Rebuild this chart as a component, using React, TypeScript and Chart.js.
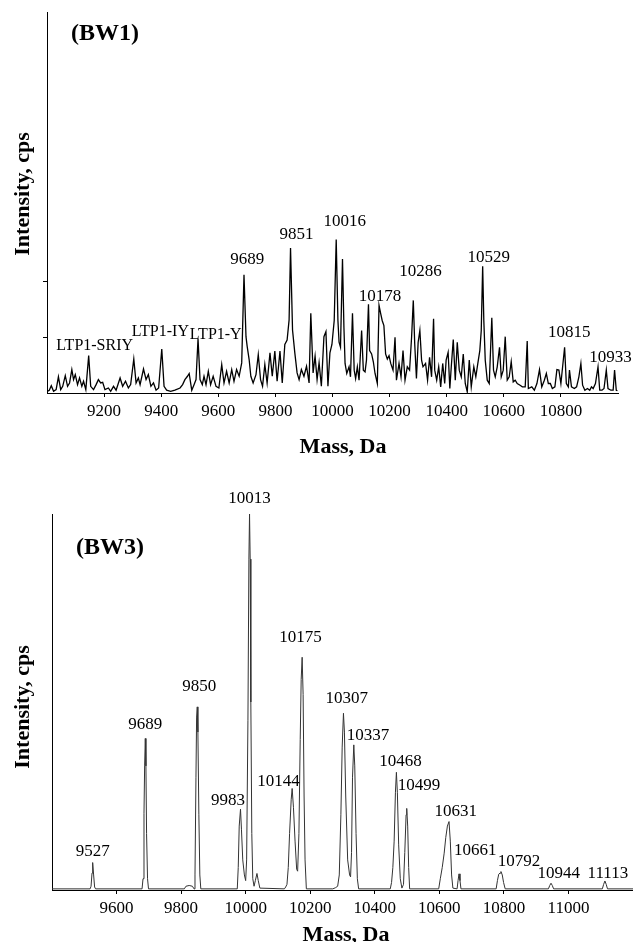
import React, { useEffect, useRef } from "react";
import { Chart, registerables } from "chart.js";

Chart.register(...registerables);

const SERIF = '"Liberation Serif", "Times New Roman", Times, serif';

// ---------- Top panel (BW1) ----------
const TOP_MASS = [
  9001, 9008, 9015, 9023, 9032, 9040, 9048, 9055, 9064, 9072,
  9079, 9087, 9093, 9099, 9107, 9114, 9122, 9128, 9136, 9146,
  9153, 9163, 9172, 9180, 9188, 9195, 9203, 9215, 9223, 9233,
  9242, 9256, 9265, 9275, 9285, 9293, 9304, 9312, 9320, 9326,
  9338, 9347, 9355, 9364, 9373, 9382, 9391, 9402, 9410, 9419,
  9433, 9448, 9466, 9475, 9483, 9492, 9498, 9507, 9515, 9522,
  9529, 9536, 9544, 9550, 9557, 9565, 9573, 9582, 9592, 9602,
  9612, 9620, 9629, 9638, 9647, 9655, 9664, 9673, 9682, 9690,
  9697, 9701, 9708, 9714, 9722, 9732, 9740, 9748, 9755, 9763,
  9771, 9781, 9789, 9798, 9806, 9816, 9824, 9833, 9841, 9848,
  9853, 9860, 9868, 9876, 9883, 9891, 9900, 9909, 9918, 9924,
  9932, 9939, 9946, 9953, 9961, 9970, 9977, 9984, 9991, 9998,
  10006, 10013, 10019, 10023, 10028, 10035, 10040, 10044, 10050, 10058,
  10063, 10070, 10076, 10081, 10087, 10093, 10102, 10108, 10114, 10119,
  10126, 10130, 10137, 10143, 10149, 10157, 10163, 10169, 10174, 10180,
  10186, 10192, 10198, 10204, 10212, 10219, 10224, 10233, 10240, 10247,
  10254, 10262, 10270, 10277, 10283, 10288, 10294, 10300, 10306, 10312,
  10317, 10326, 10333, 10340, 10347, 10354, 10358, 10365, 10372, 10379,
  10386, 10393, 10398, 10405, 10411, 10416, 10423, 10430, 10437, 10444,
  10451, 10458, 10465, 10472, 10479, 10486, 10495, 10502, 10509, 10516,
  10521, 10526, 10530, 10535, 10542, 10549, 10558, 10564, 10570, 10577,
  10585, 10591, 10598, 10605, 10612, 10619, 10626, 10633, 10640, 10647,
  10657, 10665, 10675, 10682, 10686, 10698, 10707, 10716, 10725, 10733,
  10742, 10749, 10756, 10763, 10770, 10779, 10786, 10793, 10800, 10806,
  10813, 10819, 10826, 10830, 10837, 10847, 10855, 10863, 10870, 10876,
  10884, 10893, 10901, 10907, 10913, 10921, 10930, 10936, 10944, 10951,
  10959, 10965, 10975, 10983, 10988, 10994, 10998,
];
const TOP_INT = [
  3, 5, 13, 3, 6, 29, 6, 12, 31, 12,
  18, 42, 24, 33, 15, 27, 12, 21, 6, 67,
  12, 6, 15, 24, 18, 19, 6, 9, 3, 12,
  5, 27, 12, 21, 9, 15, 61, 18, 27, 15,
  43, 24, 33, 12, 18, 5, 9, 79, 12, 5,
  3, 5, 9, 15, 24, 30, 35, 5, 15, 24,
  97, 24, 15, 30, 15, 39, 15, 30, 12, 9,
  51, 18, 39, 18, 42, 21, 42, 30, 54, 212,
  101, 84, 60, 30, 18, 33, 69, 24, 12, 51,
  18, 72, 30, 75, 21, 75, 18, 87, 95, 131,
  260, 113, 72, 36, 24, 42, 30, 48, 18, 143,
  36, 66, 24, 54, 12, 101, 110, 12, 72, 87,
  130, 275, 130, 91, 82, 240, 118, 53, 35, 47,
  29, 143, 41, 26, 47, 23, 112, 41, 38, 59,
  159, 76, 70, 56, 35, 17, 157, 142, 130, 121,
  70, 61, 67, 53, 41, 100, 23, 53, 29, 76,
  23, 47, 41, 100, 166, 88, 26, 91, 112, 59,
  47, 53, 23, 64, 29, 133, 41, 23, 47, 11,
  53, 17, 59, 73, 8, 47, 96, 23, 91, 41,
  29, 70, 17, 2, 59, 11, 47, 29, 53, 76,
  112, 227, 130, 59, 23, 17, 135, 41, 29, 47,
  82, 29, 41, 101, 23, 29, 56, 20, 23, 17,
  14, 11, 11, 93, 8, 11, 5, 17, 42, 11,
  23, 35, 17, 17, 8, 11, 42, 41, 17, 47,
  82, 17, 11, 41, 11, 8, 11, 29, 53, 14,
  5, 8, 5, 11, 8, 17, 47, 5, 5, 8,
  41, 8, 5, 5, 41, 5, 4,
];
const TOP_X_MIN = 9000;
const TOP_X_MAX = 11000;
const TOP_Y_MAX = 683;
const TOP_X_TICKS = [9200, 9400, 9600, 9800, 10000, 10200, 10400, 10600, 10800];
const TOP_Y_TICKS = [100, 200];
const TOP_NAME_TEXT = ["LTP1-SRIY", "LTP1-IY", "LTP1-Y"];
const TOP_NAME_MASS = [9167, 9397, 9591];
const TOP_NAME_INT = [84, 110, 104];
const TOP_PEAK_TEXT = ["9689", "9851", "10016", "10178", "10286", "10529", "10815", "10933"];
const TOP_PEAK_MASS = [9701, 9874, 10043, 10166, 10308, 10547, 10829, 10974];
const TOP_PEAK_INT = [240, 284, 308, 173, 218, 242, 109, 63];

// ---------- Bottom panel (BW3) ----------
const BOT_MASS = [
  9400, 9518, 9521, 9524, 9526, 9529, 9532, 9535, 9679, 9682,
  9685, 9687, 9689, 9691, 9693, 9696, 9699, 9810, 9815, 9825,
  9835, 9840, 9843, 9846, 9848, 9850, 9852, 9855, 9858, 9861,
  9974, 9977, 9980, 9984, 9987, 9991, 9996, 10000, 10003, 10007,
  10010, 10012, 10014, 10016, 10019, 10022, 10026, 10030, 10035, 10039,
  10044, 10120, 10124, 10128, 10132, 10136, 10141, 10144, 10148, 10153,
  10158, 10161, 10165, 10169, 10172, 10175, 10178, 10181, 10184, 10188,
  10270, 10278, 10285, 10290, 10295, 10299, 10303, 10306, 10310, 10316,
  10322, 10325, 10328, 10331, 10335, 10338, 10342, 10346, 10350, 10448,
  10452, 10456, 10460, 10464, 10467, 10470, 10474, 10479, 10484, 10489,
  10493, 10497, 10499, 10502, 10505, 10508, 10598, 10603, 10609, 10615,
  10620, 10625, 10630, 10634, 10638, 10642, 10655, 10658, 10661, 10664,
  10667, 10776, 10780, 10784, 10788, 10791, 10795, 10799, 10804, 10938,
  10942, 10946, 10950, 10954, 11105, 11109, 11113, 11117, 11121, 11200,
];
const BOT_INT = [
  3, 3, 10, 45, 73, 40, 8, 3, 3, 30,
  204, 330, 403, 330, 150, 30, 3, 3, 10, 12,
  10, 3, 40, 300, 460, 487, 420, 200, 40, 3,
  3, 60, 170, 215, 160, 80, 40, 25, 80, 450,
  880, 1000, 880, 500, 150, 30, 10, 25, 44, 25,
  5, 3, 8, 15, 60, 150, 240, 270, 220, 130,
  55, 50, 150, 400, 560, 619, 520, 250, 80, 3,
  3, 6, 10, 40, 200, 380, 470, 420, 250, 80,
  40, 35, 100, 300, 386, 330, 150, 30, 3, 3,
  20, 60, 130, 260, 313, 260, 120, 30, 5, 15,
  100, 200, 217, 170, 60, 3, 3, 30, 60, 98,
  140, 170, 182, 130, 40, 5, 3, 25, 43, 25,
  3, 3, 25, 42, 45, 49, 40, 20, 3, 3,
  12, 18, 12, 3, 3, 15, 24, 15, 3, 3,
];
const BOT_X_MIN = 9400;
const BOT_X_MAX = 11200;
const BOT_Y_MAX = 1000;
const BOT_X_TICKS = [9600, 9800, 10000, 10200, 10400, 10600, 10800, 11000];
const BOT_PEAK_TEXT = [
  "9527", "9689", "9850", "9983", "10013", "10144", "10175", "10307",
  "10337", "10468", "10499", "10631", "10661", "10792", "10944", "11113",
];
const BOT_PEAK_MASS = [
  9526, 9689, 9856, 9945, 10012, 10102, 10170, 10313,
  10379, 10480, 10537, 10651, 10711, 10847, 10970, 11122,
];
const BOT_PEAK_INT = [
  102, 439, 541, 239, 1042, 288, 672, 508,
  410, 343, 277, 210, 106, 75, 44, 44,
];

type Group = { text: string[]; mass: number[]; inten: number[]; size: number };
type Overlay = {
  groups: Group[];
  band: string;
  bandPos: [number, number];
  xTitlePos: [number, number];
  yTitlePos: [number, number];
};

function makeOverlay(id: string, cfg: Overlay) {
  return {
    id,
    afterDraw(chart: any) {
      const ctx = chart.ctx as CanvasRenderingContext2D;
      const xs = chart.scales.x;
      const ys = chart.scales.y;
      ctx.save();
      ctx.fillStyle = "#000";
      ctx.textAlign = "center";
      ctx.textBaseline = "middle";
      cfg.groups.forEach((g) => {
        ctx.font = `${g.size}px ${SERIF}`;
        g.text.forEach((t, i) => {
          ctx.fillText(t, xs.getPixelForValue(g.mass[i]), ys.getPixelForValue(g.inten[i]));
        });
      });
      ctx.font = `bold 24px ${SERIF}`;
      ctx.fillText(cfg.band, cfg.bandPos[0], cfg.bandPos[1]);
      ctx.font = `bold 22px ${SERIF}`;
      ctx.fillText("Mass, Da", cfg.xTitlePos[0], cfg.xTitlePos[1]);
      ctx.translate(cfg.yTitlePos[0], cfg.yTitlePos[1]);
      ctx.rotate(-Math.PI / 2);
      ctx.fillText("Intensity, cps", 0, 0);
      ctx.restore();
    },
  };
}

type PanelOpts = {
  mass: number[];
  inten: number[];
  xMin: number;
  xMax: number;
  yMax: number;
  xTicks: number[];
  yTicks: number[];
  color: string;
  lineWidth: number;
  padTop: number;
  padRight: number;
  yAxisWidth: number;
  xAxisHeight: number;
  overlay: any;
};

function buildConfig(o: PanelOpts): any {
  return {
    type: "line",
    data: {
      datasets: [
        {
          data: o.mass.map((m, i) => ({ x: m, y: o.inten[i] })),
          borderColor: o.color,
          borderWidth: o.lineWidth,
          pointRadius: 0,
          tension: 0,
          fill: false,
        },
      ],
    },
    options: {
      animation: false,
      responsive: false,
      maintainAspectRatio: false,
      layout: { padding: { left: 0, right: o.padRight, top: o.padTop, bottom: 0 } },
      plugins: {
        legend: { display: false },
        tooltip: { enabled: false },
        title: { display: false },
      },
      scales: {
        x: {
          type: "linear",
          min: o.xMin,
          max: o.xMax,
          afterBuildTicks: (s: any) => {
            s.ticks = o.xTicks.map((v) => ({ value: v }));
          },
          afterFit: (s: any) => {
            s.height = o.xAxisHeight;
          },
          grid: {
            display: true,
            drawOnChartArea: false,
            drawTicks: true,
            tickLength: 4,
            color: "#000",
            lineWidth: 1,
          },
          border: { display: true, color: "#000", width: 1 },
          ticks: {
            color: "#000",
            font: { family: SERIF, size: 17 },
            padding: 4,
            maxRotation: 0,
            autoSkip: false,
            callback: (v: any) => String(v),
          },
        },
        y: {
          type: "linear",
          min: 0,
          max: o.yMax,
          afterBuildTicks: (s: any) => {
            s.ticks = o.yTicks.map((v) => ({ value: v }));
          },
          afterFit: (s: any) => {
            s.width = o.yAxisWidth;
          },
          grid: {
            display: true,
            drawOnChartArea: false,
            drawTicks: true,
            tickLength: 4,
            color: "#000",
            lineWidth: 1,
          },
          border: { display: true, color: "#000", width: 1 },
          ticks: { display: false },
        },
      },
    },
    plugins: [o.overlay],
  };
}

export default function App() {
  const topRef = useRef<HTMLCanvasElement | null>(null);
  const botRef = useRef<HTMLCanvasElement | null>(null);

  useEffect(() => {
    document.body.style.margin = "0";
    const topOverlay = makeOverlay("topOverlay", {
      groups: [
        { text: TOP_NAME_TEXT, mass: TOP_NAME_MASS, inten: TOP_NAME_INT, size: 16 },
        { text: TOP_PEAK_TEXT, mass: TOP_PEAK_MASS, inten: TOP_PEAK_INT, size: 17 },
      ],
      band: "(BW1)",
      bandPos: [105, 34],
      xTitlePos: [343, 447],
      yTitlePos: [23, 194],
    });
    const botOverlay = makeOverlay("botOverlay", {
      groups: [{ text: BOT_PEAK_TEXT, mass: BOT_PEAK_MASS, inten: BOT_PEAK_INT, size: 17 }],
      band: "(BW3)",
      bandPos: [110, 88],
      xTitlePos: [346, 475],
      yTitlePos: [23, 247],
    });
    const top = new Chart(
      topRef.current as HTMLCanvasElement,
      buildConfig({
        mass: TOP_MASS,
        inten: TOP_INT,
        xMin: TOP_X_MIN,
        xMax: TOP_X_MAX,
        yMax: TOP_Y_MAX,
        xTicks: TOP_X_TICKS,
        yTicks: TOP_Y_TICKS,
        color: "#000",
        lineWidth: 1.3,
        padTop: 12,
        padRight: 15,
        yAxisWidth: 47,
        xAxisHeight: 67,
        overlay: topOverlay,
      })
    );
    const bot = new Chart(
      botRef.current as HTMLCanvasElement,
      buildConfig({
        mass: BOT_MASS,
        inten: BOT_INT,
        xMin: BOT_X_MIN,
        xMax: BOT_X_MAX,
        yMax: BOT_Y_MAX,
        xTicks: BOT_X_TICKS,
        yTicks: [],
        color: "#333",
        lineWidth: 1,
        padTop: 54,
        padRight: 0,
        yAxisWidth: 52,
        xAxisHeight: 52,
        overlay: botOverlay,
      })
    );
    return () => {
      top.destroy();
      bot.destroy();
    };
  }, []);

  return (
    <div style={{ position: "relative", width: 633, height: 942, background: "#fff" }}>
      <canvas
        ref={topRef}
        width={633}
        height={460}
        style={{ position: "absolute", left: 0, top: 0, display: "block" }}
      />
      <canvas
        ref={botRef}
        width={633}
        height={482}
        style={{ position: "absolute", left: 0, top: 460, display: "block" }}
      />
    </div>
  );
}
